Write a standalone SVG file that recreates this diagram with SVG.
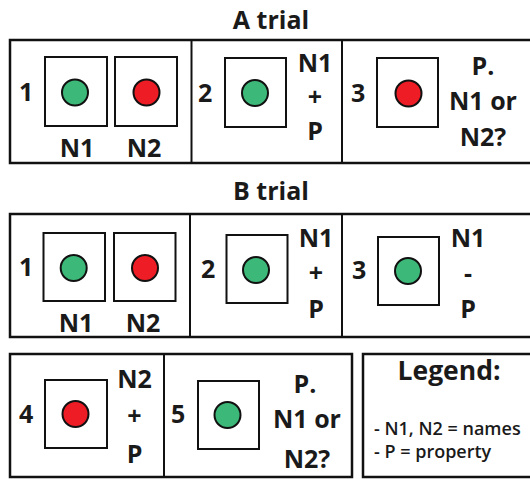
<svg xmlns="http://www.w3.org/2000/svg" width="530" height="479" viewBox="0 0 530 479">
<style>
.frame{fill:none;stroke:#111;stroke-width:2.5}
.div{stroke:#111;stroke-width:2}
.box{fill:#fff;stroke:#111;stroke-width:2}
.g{fill:#3cb878;stroke:#111;stroke-width:2}
.r{fill:#ee1c25;stroke:#111;stroke-width:2}
text{font-family:"Open Sans","Noto Sans","Liberation Sans",sans-serif;font-weight:700;fill:#1a1a1a}
.t{font-size:25px;text-anchor:middle}
.n{font-size:25px}
.m{font-size:25px;text-anchor:middle}
.lg{font-size:26.5px;text-anchor:middle}
.ls{font-size:18px;font-weight:600}
</style>
<rect width="530" height="479" fill="#fff"/>

<g id="trialA">
  <text class="t" x="271" y="29">A trial</text>
  <rect class="frame" x="10" y="40" width="540" height="123"/>
  <line class="div" x1="191.5" y1="40" x2="191.5" y2="163"/>
  <line class="div" x1="342" y1="40" x2="342" y2="163"/>
</g>
<g id="A1">
  <text class="n" x="19" y="101">1</text>
  <rect class="box" x="45" y="57" width="62" height="69"/>
  <circle class="g" cx="75" cy="92.5" r="13"/>
  <rect class="box" x="115" y="57" width="62" height="69"/>
  <circle class="r" cx="146.5" cy="92.5" r="13"/>
  <text class="m" x="77" y="157">N1</text>
  <text class="m" x="144" y="157">N2</text>
</g>
<g id="A2">
  <text class="n" x="198" y="102">2</text>
  <rect class="box" x="225" y="58" width="61" height="69"/>
  <circle class="g" cx="255" cy="93" r="13"/>
  <text class="m" x="315" y="72">N1</text>
  <text class="m" x="315" y="106">+</text>
  <text class="m" x="315" y="140">P</text>
</g>
<g id="A3">
  <text class="n" x="351" y="102">3</text>
  <rect class="box" x="377" y="58" width="61" height="69"/>
  <circle class="r" cx="408.5" cy="93.5" r="13"/>
  <text class="m" x="483" y="75">P.</text>
  <text class="m" x="483" y="110">N1 or</text>
  <text class="m" x="483" y="146">N2?</text>
</g>

<g id="trialB">
  <text class="t" x="271" y="200">B trial</text>
  <rect class="frame" x="10" y="214" width="540" height="123"/>
  <line class="div" x1="190" y1="214" x2="190" y2="337"/>
  <line class="div" x1="342" y1="214" x2="342" y2="337"/>
</g>
<g id="B1">
  <text class="n" x="19" y="276">1</text>
  <rect class="box" x="43.5" y="233" width="61.5" height="68"/>
  <circle class="g" cx="73.7" cy="268" r="13"/>
  <rect class="box" x="114" y="233" width="61.5" height="68"/>
  <circle class="r" cx="145" cy="268" r="13"/>
  <text class="m" x="76" y="332">N1</text>
  <text class="m" x="143" y="332">N2</text>
</g>
<g id="B2">
  <text class="n" x="201" y="278">2</text>
  <rect class="box" x="226.5" y="235" width="61" height="68"/>
  <circle class="g" cx="256" cy="270" r="13"/>
  <text class="m" x="316" y="247">N1</text>
  <text class="m" x="316" y="282">+</text>
  <text class="m" x="316" y="318">P</text>
</g>
<g id="B3">
  <text class="n" x="352" y="279">3</text>
  <rect class="box" x="378" y="237" width="61" height="68"/>
  <circle class="g" cx="408" cy="271" r="13"/>
  <text class="m" x="468" y="247">N1</text>
  <text class="m" x="468" y="282">-</text>
  <text class="m" x="468" y="318">P</text>
</g>

<g id="rowC">
  <rect class="frame" x="10" y="354" width="342" height="123"/>
  <line class="div" x1="164" y1="354" x2="164" y2="477"/>
</g>
<g id="C4">
  <text class="n" x="19" y="423">4</text>
  <rect class="box" x="45" y="380" width="62" height="68"/>
  <circle class="r" cx="75.5" cy="414" r="13"/>
  <text class="m" x="134.5" y="388">N2</text>
  <text class="m" x="134.5" y="425">+</text>
  <text class="m" x="134.5" y="463">P</text>
</g>
<g id="C5">
  <text class="n" x="171" y="423">5</text>
  <rect class="box" x="198" y="381" width="61" height="68"/>
  <circle class="g" cx="227.5" cy="415" r="13"/>
  <text class="m" x="305" y="393">P.</text>
  <text class="m" x="307" y="428">N1 or</text>
  <text class="m" x="307" y="468">N2?</text>
</g>

<g id="legend">
  <rect class="frame" x="363" y="354" width="190" height="123"/>
  <text class="lg" x="449" y="380">Legend:</text>
  <text class="ls" x="374" y="435">- N1, N2 = names</text>
  <text class="ls" x="374" y="458">- P = property</text>
</g>
</svg>
